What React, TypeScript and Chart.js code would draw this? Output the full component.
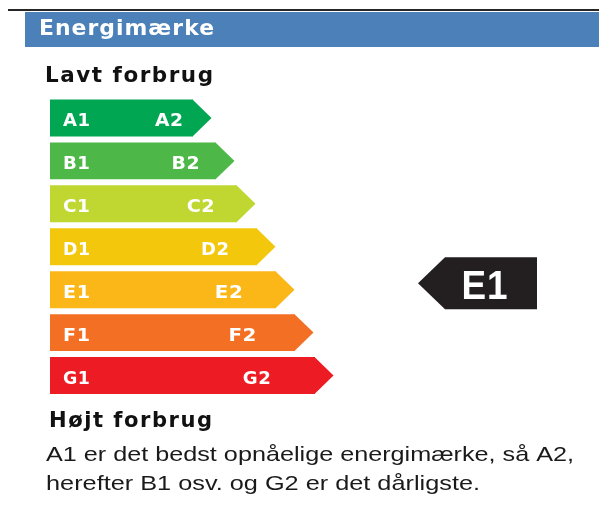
import React, { useEffect, useRef } from 'react';
import { Chart, registerables } from 'chart.js';

Chart.register(...registerables);

// ---- data ----
const categories = ['A', 'B', 'C', 'D', 'E', 'F', 'G'];
const firstLabels = ['A1', 'B1', 'C1', 'D1', 'E1', 'F1', 'G1'];
const secondLabels = ['A2', 'B2', 'C2', 'D2', 'E2', 'F2', 'G2'];
const barLengths = [28.6, 33.2, 37.4, 41.4, 45.2, 49.0, 53.0];
const barColors = ['#00a651', '#4db848', '#bfd730', '#f3c80c', '#fbb617', '#f36f24', '#ed1c24'];
const currentCategory = 'E';
const currentRating = 'E1';
const titleText = 'Energimærke';
const topText = 'Lavt forbrug';
const bottomText = 'Højt forbrug';
const noteLines = [
  'A1 er det bedst opnåelige energimærke, så A2,',
  'herefter B1 osv. og G2 er det dårligste.',
];

const FONT = '"Liberation Sans", Arial, Helvetica, sans-serif';
const BOLD_FONT = '"DejaVu Sans", "Liberation Sans", Arial, sans-serif';

// draws text stretched horizontally so it spans `width` pixels
function fitText(
  ctx: CanvasRenderingContext2D,
  text: string,
  x: number,
  y: number,
  width: number,
  font: string,
  color: string,
  align: 'left' | 'center' = 'left',
  spacing = 0
) {
  ctx.save();
  ctx.font = font;
  ctx.fillStyle = color;
  ctx.textBaseline = 'alphabetic';
  ctx.textAlign = 'left';
  (ctx as any).letterSpacing = spacing + 'px';
  const w = ctx.measureText(text).width - spacing;
  const sx = width / w;
  const startX = align === 'center' ? x - width / 2 : x;
  ctx.translate(startX, y);
  ctx.scale(sx, 1);
  ctx.fillText(text, 0, 0);
  ctx.restore();
}

const labelPlugin = {
  id: 'energyLabel',
  afterDatasetsDraw(chart: any) {
    const ctx: CanvasRenderingContext2D = chart.ctx;
    const meta = chart.getDatasetMeta(0);
    const xScale = chart.scales.x;
    const base = xScale.getPixelForValue(0);
    meta.data.forEach((bar: any, i: number) => {
      const { x, y, height } = bar.getProps(['x', 'y', 'height'], true);
      ctx.save();
      ctx.fillStyle = barColors[i];
      ctx.beginPath();
      ctx.moveTo(x - 0.5, y - height / 2);
      ctx.lineTo(x + 18.5, y);
      ctx.lineTo(x - 0.5, y + height / 2);
      ctx.closePath();
      ctx.fill();
      ctx.restore();
      fitText(ctx, firstLabels[i], base + 13, y + 8.5, 27, `bold 17px ${BOLD_FONT}`, '#ffffff', 'left', 0.5);
      const sx = base + (x - base) * 0.72 + 2;
      fitText(ctx, secondLabels[i], sx, y + 8.5, 28, `bold 17px ${BOLD_FONT}`, '#ffffff', 'left', 0.5);
    });
  },
  afterDraw(chart: any) {
    const ctx: CanvasRenderingContext2D = chart.ctx;
    // top rule + header band
    ctx.save();
    ctx.fillStyle = '#262626';
    ctx.fillRect(8, 9, 591, 2);
    ctx.fillStyle = '#4b80b9';
    ctx.fillRect(25, 12, 574, 35);
    ctx.restore();
    fitText(ctx, titleText, 39, 35, 175, `bold 21px ${BOLD_FONT}`, '#ffffff', 'left', 1);
    fitText(ctx, topText, 45, 82, 168, `bold 21px ${BOLD_FONT}`, '#111111', 'left', 1.5);
    fitText(ctx, bottomText, 49, 427, 163, `bold 21px ${BOLD_FONT}`, '#111111', 'left', 1.5);
    fitText(ctx, noteLines[0], 46, 461, 528, `21px ${FONT}`, '#1a1a1a');
    fitText(ctx, noteLines[1], 46, 490, 434, `21px ${FONT}`, '#1a1a1a');

    // current rating indicator
    const yScale = chart.scales.y;
    const cy = yScale.getPixelForValue(categories.indexOf(currentCategory)) - 6.5;
    const half = 26;
    ctx.save();
    ctx.fillStyle = '#231f20';
    ctx.beginPath();
    ctx.moveTo(418, cy);
    ctx.lineTo(445, cy - half);
    ctx.lineTo(537, cy - half);
    ctx.lineTo(537, cy + half);
    ctx.lineTo(445, cy + half);
    ctx.closePath();
    ctx.fill();
    ctx.restore();
    fitText(ctx, currentRating, 484.5, cy + 15.5, 46, `bold 41px ${FONT}`, '#ffffff', 'center', 1);
  },
};

export default function App() {
  const canvasRef = useRef<HTMLCanvasElement | null>(null);

  useEffect(() => {
    const canvas = canvasRef.current;
    if (!canvas) return;
    const chart = new Chart(canvas, {
      type: 'bar',
      data: {
        labels: categories,
        datasets: [
          {
            data: barLengths,
            backgroundColor: barColors,
            borderWidth: 0,
            barPercentage: 0.86,
            categoryPercentage: 1,
          },
        ],
      },
      options: {
        indexAxis: 'y',
        responsive: false,
        animation: false,
        devicePixelRatio: 1,
        layout: { padding: { left: 50, right: 49, top: 96.5, bottom: 108 } },
        scales: {
          x: { type: 'linear', min: 0, max: 100, display: false },
          y: { type: 'category', display: false, offset: true },
        },
        plugins: {
          legend: { display: false },
          tooltip: { enabled: false },
        },
      },
      plugins: [labelPlugin],
    });
    return () => chart.destroy();
  }, []);

  return (
    <div style={{ position: 'fixed', left: 0, top: 0, width: 599, height: 505, background: '#ffffff' }}>
      <canvas ref={canvasRef} width={599} height={505} style={{ display: 'block' }} />
    </div>
  );
}
